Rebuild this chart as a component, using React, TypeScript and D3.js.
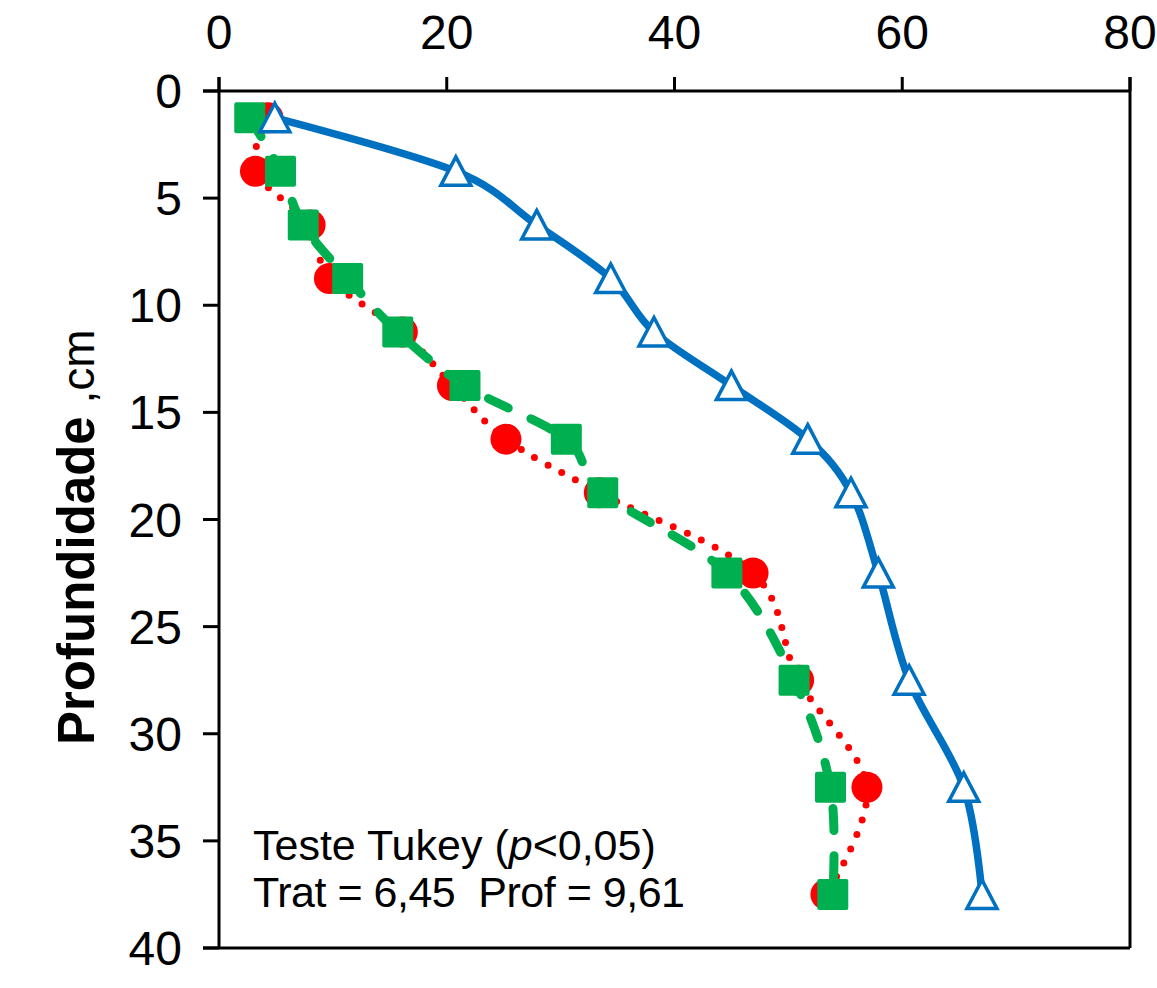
import React from "react";
import * as d3 from "d3";

const depths = [1.25, 3.75, 6.25, 8.75, 11.25, 13.75, 16.25, 18.75, 22.5, 27.5, 32.5, 37.5];
const blueValues = [4.9, 20.8, 27.9, 34.4, 38.2, 45.0, 51.7, 55.5, 57.9, 60.6, 65.4, 67.0];
const redValues = [4.3, 3.2, 8.0, 9.7, 16.1, 20.5, 25.2, 33.4, 46.9, 50.9, 56.9, 53.3];
const greenValues = [2.7, 5.4, 7.4, 11.3, 15.7, 21.6, 30.5, 33.7, 44.6, 50.5, 53.7, 53.9];
const xTicks = [0, 20, 40, 60, 80];
const yTicks = [0, 5, 10, 15, 20, 25, 30, 35, 40];

const FONT = "'Liberation Sans', Arial, sans-serif";
const BLUE = "#0070C0";
const RED = "#FF0000";
const GREEN = "#00B050";

export default function App() {
  const x = d3.scaleLinear().domain([0, 80]).range([219, 1130]);
  const y = d3.scaleLinear().domain([0, 40]).range([91, 948]);

  const mk = (vals: number[]) =>
    d3
      .line<number>()
      .x((v) => x(v))
      .y((_, i) => y(depths[i]))
      .curve(d3.curveCardinal.tension(0))(vals) || "";

  const tri = "M0,-14.5 L15,14 L-15,14 Z";

  return (
    <svg
      width={1157}
      height={988}
      style={{ position: "absolute", left: 0, top: 0, background: "#fff" }}
      fontFamily={FONT}
    >
      <rect x={0} y={0} width={1157} height={988} fill="#fff" />
      {/* axes box */}
      <g stroke="#000" strokeWidth={3} fill="none">
        <line x1={203} y1={y(0)} x2={x(80)} y2={y(0)} />
        <line x1={203} y1={y(40)} x2={x(80)} y2={y(40)} />
        <line x1={x(0)} y1={77} x2={x(0)} y2={y(40)} />
        <line x1={x(80)} y1={77} x2={x(80)} y2={y(40)} />
        {xTicks.map((t) => (
          <line key={"xt" + t} x1={x(t)} y1={77} x2={x(t)} y2={y(0)} />
        ))}
        {yTicks.map((t) => (
          <line key={"yt" + t} x1={203} y1={y(t)} x2={x(0)} y2={y(t)} />
        ))}
      </g>
      {xTicks.map((t) => (
        <text key={"xl" + t} x={x(t)} y={49} textAnchor="middle" fontSize={48} fill="#000">
          {t}
        </text>
      ))}
      {yTicks.map((t) => (
        <text key={"yl" + t} x={182} y={y(t) + 17} textAnchor="end" fontSize={48} fill="#000">
          {t}
        </text>
      ))}
      <text transform="translate(94,745) rotate(-90)" fontSize={51} fill="#000" xmlSpace="preserve">
        <tspan fontWeight="bold">Profundidade</tspan>
        <tspan fontWeight="normal" fontSize={46}> ,cm</tspan>
      </text>

      {/* red series */}
      <path d={mk(redValues)} fill="none" stroke={RED} strokeWidth={7} strokeDasharray="0 15.5" strokeLinecap="round" />
      {redValues.map((v, i) => (
        <circle key={"r" + i} cx={x(v)} cy={y(depths[i])} r={15.5} fill={RED} />
      ))}

      {/* green series */}
      <path d={mk(greenValues)} fill="none" stroke={GREEN} strokeWidth={9} strokeDasharray="22 25" strokeLinecap="round" />
      {greenValues.map((v, i) => (
        <rect key={"g" + i} x={x(v) - 15.5} y={y(depths[i]) - 15.5} width={31} height={31} rx={2} fill={GREEN} />
      ))}

      {/* blue series */}
      <path d={mk(blueValues)} fill="none" stroke={BLUE} strokeWidth={7.5} />
      {blueValues.map((v, i) => (
        <path
          key={"b" + i}
          d={tri}
          transform={`translate(${x(v)},${y(depths[i])})`}
          fill="#fff"
          stroke={BLUE}
          strokeWidth={3.5}
        />
      ))}

      <text x={253} y={860} fontSize={43} fill="#000">
        Teste Tukey (<tspan fontStyle="italic">p</tspan>&lt;0,05)
      </text>
      <text x={253} y={907} fontSize={43} fill="#000" xmlSpace="preserve" textLength={432} lengthAdjust="spacing">
        {"Trat = 6,45  Prof = 9,61"}
      </text>
    </svg>
  );
}
